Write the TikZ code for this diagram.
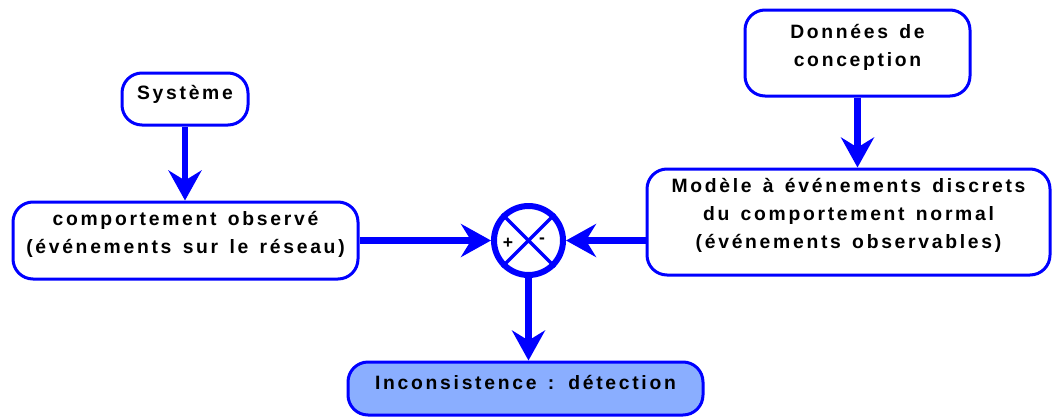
\documentclass[tikz,border=0pt]{standalone}
\usepackage{fontspec}
\newfontfamily\boxfont[LetterSpace=14, WordSpace=1.4]{Liberation Sans}
\usetikzlibrary{positioning, arrows.meta}
\definecolor{incfill}{RGB}{138,174,255}

\begin{document}
\begin{tikzpicture}[
                frame/.style={rectangle, draw=blue, line width=0.06cm, rounded corners=0.4cm, fill=white},
                txt/.style={anchor=north, inner sep=0pt, align=center, font=\boxfont\bfseries\fontsize{11}{16}\selectfont},
                sign/.style={inner sep=0pt, font=\boxfont\bfseries\fontsize{10}{10}\selectfont},
                flow/.style={-{Stealth[length=0.6cm, width=0.66cm, inset=0.2cm]}, line width=0.13cm, blue}
            ]
            \useasboundingbox (0,0) rectangle (21.04,-8.34);

            \node[frame, minimum width=2.52cm, minimum height=1.04cm] (sys) at (3.70,-1.98) {};
            \node[frame, minimum width=6.9cm, minimum height=1.54cm] (obs) at (3.71,-4.81) {};
            \node[frame, minimum width=4.5cm, minimum height=1.72cm] (don) at (17.15,-1.06) {};
            \node[frame, minimum width=8.06cm, minimum height=2.12cm] (mod) at (16.97,-4.44) {};
            \node[frame, fill=incfill, minimum width=7.1cm, minimum height=1.06cm] (inc) at (10.51,-7.77) {};
            \node[circle, draw=blue, fill=white, line width=0.12cm, minimum size=1.38cm, inner sep=0pt] (cmp) at (10.57,-4.81) {};

            \node[txt] (sysT) at ([yshift=-0.26cm]sys.north) {Système};
            \node[txt] (obsT) at ([yshift=-0.2cm]obs.north) {comportement observé\\(événements sur le réseau)};
            \node[txt] (donT) at ([yshift=-0.31cm]don.north) {Données de\\conception};
            \node[txt] (modT) at ([yshift=-0.2cm]mod.north) {Modèle à événements discrets\\du comportement normal\\(événements observables)};
            \node[txt] (incT) at ([yshift=-0.28cm]inc.north) {Inconsistence : détection};

            % comparateur
            \draw[blue, line width=0.07cm] (cmp.north west) -- (cmp.south east) (cmp.north east) -- (cmp.south west);
            \node[sign] (plus) at ([xshift=-0.41cm, yshift=-0.05cm]cmp.center) {+};
            \node[sign] (minus) at ([xshift=0.27cm]cmp.center) {-};

            \draw[flow] (sys.south) -- (sys.south |- obs.north);
            \draw[flow] (don.south) -- (don.south |- mod.north);
            \draw[flow] (obs.east) -- (cmp.west);
            \draw[flow] (cmp.east -| mod.west) -- (cmp.east);
            \draw[flow] (cmp.south) -- (cmp.south |- inc.north);
        \end{tikzpicture}
\end{document}
